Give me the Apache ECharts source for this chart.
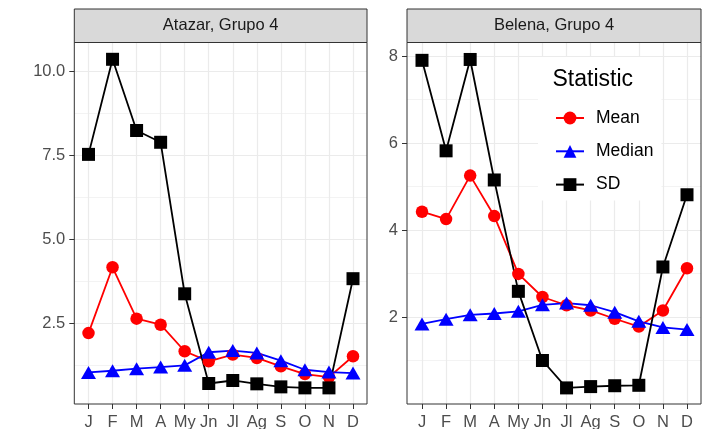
<!DOCTYPE html>
<html><head><meta charset="utf-8">
<script src="https://cdn.jsdelivr.net/npm/echarts@6/dist/echarts.min.js"></script>
<style>html,body{margin:0;padding:0;background:#fff}#c{width:707px;height:429px}</style>
</head><body><div id="c"></div>
<script>
// ---- data ----
const months = ['J','F','M','A','My','Jn','Jl','Ag','S','O','N','D'];
const panelTitles = ['Atazar, Grupo 4', 'Belena, Grupo 4'];
const statNames = ['Mean', 'Median', 'SD'];
const legendTitle = 'Statistic';

const atazarMean   = [2.20, 4.16, 2.63, 2.45, 1.66, 1.36, 1.56, 1.46, 1.21, 0.98, 0.89, 1.51];
const atazarMedian = [1.03, 1.08, 1.14, 1.19, 1.24, 1.63, 1.68, 1.61, 1.38, 1.11, 1.04, 1.01];
const atazarSD     = [7.52, 10.35, 8.23, 7.88, 3.37, 0.70, 0.79, 0.69, 0.60, 0.57, 0.57, 3.82];

const belenaMean   = [4.42, 4.25, 5.25, 4.32, 2.99, 2.46, 2.27, 2.15, 1.96, 1.78, 2.15, 3.12];
const belenaMedian = [1.84, 1.95, 2.05, 2.08, 2.13, 2.28, 2.32, 2.27, 2.11, 1.90, 1.76, 1.71];
const belenaSD     = [7.90, 5.82, 7.92, 5.15, 2.59, 1.00, 0.37, 0.40, 0.42, 0.43, 3.15, 4.81];

const atazarTicks = [2.5, 5, 7.5, 10];
const atazarMinorTicks = [1.25, 3.75, 6.25, 8.75];
const belenaTicks = [2, 4, 6, 8];
const belenaMinorTicks = [1, 3, 5, 7];
const atazarRange = [0.09, 10.85];
const belenaRange = [0.0, 8.31];

// ---- style ----
const FONT = 'Liberation Sans, Arial, Helvetica, sans-serif';
const colors = {Mean: '#FF0000', Median: '#0000FF', SD: '#000000'};
const symbols = {Mean: 'circle', Median: 'triangle', SD: 'rect'};
const symbolSizes = {Mean: 12.5, Median: [15, 13], SD: 13};

const panels = [
  {title: panelTitles[0], bg: {left: 74.3, right: 340, top: 42.5, bottom: 25}, data: {left: 88.5, right: 354}, range: atazarRange, ticks: atazarTicks, minor: atazarMinorTicks, dec: 1, step: 2.5,
   values: {Mean: atazarMean, Median: atazarMedian, SD: atazarSD}},
  {title: panelTitles[1], bg: {left: 407, right: 6, top: 42.5, bottom: 25}, data: {left: 422, right: 20}, range: belenaRange, ticks: belenaTicks, minor: belenaMinorTicks, dec: 0, step: 2,
   values: {Mean: belenaMean, Median: belenaMedian, SD: belenaSD}}
];

const grid = [], xAxis = [], yAxis = [], series = [], graphic = [];
panels.forEach((p, i) => {
  const gBg = grid.length;
  grid.push({left: p.bg.left, right: p.bg.right, top: p.bg.top, bottom: p.bg.bottom, containLabel: false, outerBoundsMode: 'none'});
  const gData = grid.length;
  grid.push({left: p.data.left, right: p.data.right, top: p.bg.top, bottom: p.bg.bottom, containLabel: false, outerBoundsMode: 'none'});

  xAxis.push({type: 'value', gridIndex: gBg, min: 0, max: 1, show: false});
  const xData = xAxis.length;
  xAxis.push({
    type: 'category', gridIndex: gData, data: months, boundaryGap: false,
    axisLine: {show: false},
    axisTick: {show: true, length: 5, lineStyle: {color: '#333333', width: 1}},
    axisLabel: {interval: 0, hideOverlap: false, margin: 10, color: '#4D4D4D', fontSize: 16.5, fontFamily: FONT},
    splitLine: {show: true, lineStyle: {color: '#EBEBEB', width: 1.2}}
  });
  // minor grid lines
  yAxis.push({
    type: 'value', gridIndex: gBg, min: p.range[0], max: p.range[1],
    minInterval: p.step / 2, maxInterval: p.step / 2,
    axisLine: {show: false}, axisLabel: {show: false, customValues: p.minor},
    axisTick: {show: false, customValues: p.minor},
    splitLine: {show: true, lineStyle: {color: '#EBEBEB', width: 0.6}}
  });
  // major grid lines, ticks, labels
  yAxis.push({
    type: 'value', gridIndex: gBg, min: p.range[0], max: p.range[1], position: 'left',
    minInterval: p.step, maxInterval: p.step,
    axisLine: {show: false},
    axisTick: {show: true, length: 5, customValues: p.ticks, lineStyle: {color: '#333333', width: 1}},
    axisLabel: {show: true, customValues: p.ticks, margin: 9, color: '#4D4D4D', fontSize: 16.5, fontFamily: FONT,
      formatter: v => {
        const ok = p.ticks.some(t => Math.abs(t - v) < 1e-6);
        return ok ? v.toFixed(p.dec) : '';
      }},
    splitLine: {show: true, lineStyle: {color: '#EBEBEB', width: 1.2}}
  });
  const yData = yAxis.length;
  yAxis.push({type: 'value', gridIndex: gData, min: p.range[0], max: p.range[1], show: false, splitLine: {show: false}});

  statNames.forEach(s => {
    series.push({
      name: s, type: 'line', xAxisIndex: xData, yAxisIndex: yData,
      data: p.values[s], symbol: symbols[s], symbolSize: symbolSizes[s], showAllSymbol: true,
      lineStyle: {color: colors[s], width: 1.8},
      itemStyle: {color: colors[s], borderWidth: 0},
      emphasis: {disabled: true}, animation: false, clip: false
    });
  });

  const bx = p.bg.left, bw = 707 - p.bg.right - p.bg.left;
  const by = p.bg.top, bh = 429 - p.bg.bottom - p.bg.top;
  graphic.push({type: 'rect', z: 100, silent: true, shape: {x: bx, y: by, width: bw, height: bh},
    style: {fill: 'none', stroke: '#333333', lineWidth: 1}});
  graphic.push({type: 'rect', z: 100, silent: true, shape: {x: bx, y: 9, width: bw, height: by - 9},
    style: {fill: '#D9D9D9', stroke: '#333333', lineWidth: 1}});
  graphic.push({type: 'text', z: 101, silent: true, x: bx + bw / 2, y: (9 + by) / 2,
    style: {text: p.title, fill: '#1A1A1A', font: '16.5px ' + FONT, textAlign: 'center', textVerticalAlign: 'middle'}});
});

graphic.push({type: 'text', z: 110, silent: true, x: 552.5, y: 80,
  style: {text: legendTitle, fill: '#000000', font: '23px ' + FONT, textAlign: 'left', textVerticalAlign: 'middle'}});

const option = {
  animation: false,
  backgroundColor: '#ffffff',
  grid, xAxis, yAxis, series, graphic,
  legend: {
    data: statNames, orient: 'vertical', left: 538, top: 57,
    backgroundColor: '#ffffff', padding: [51, 8, 6, 17],
    itemWidth: 28, itemHeight: 16, itemGap: 13.3, selectedMode: false,
    textStyle: {fontSize: 17.5, fontFamily: FONT, color: '#000000', lineHeight: 20, padding: [0, 0, 0, 7]}
  }
};
const chart = echarts.init(document.getElementById('c'), null, {renderer: 'canvas'});
chart.setOption(option);
</script>
</body></html>
